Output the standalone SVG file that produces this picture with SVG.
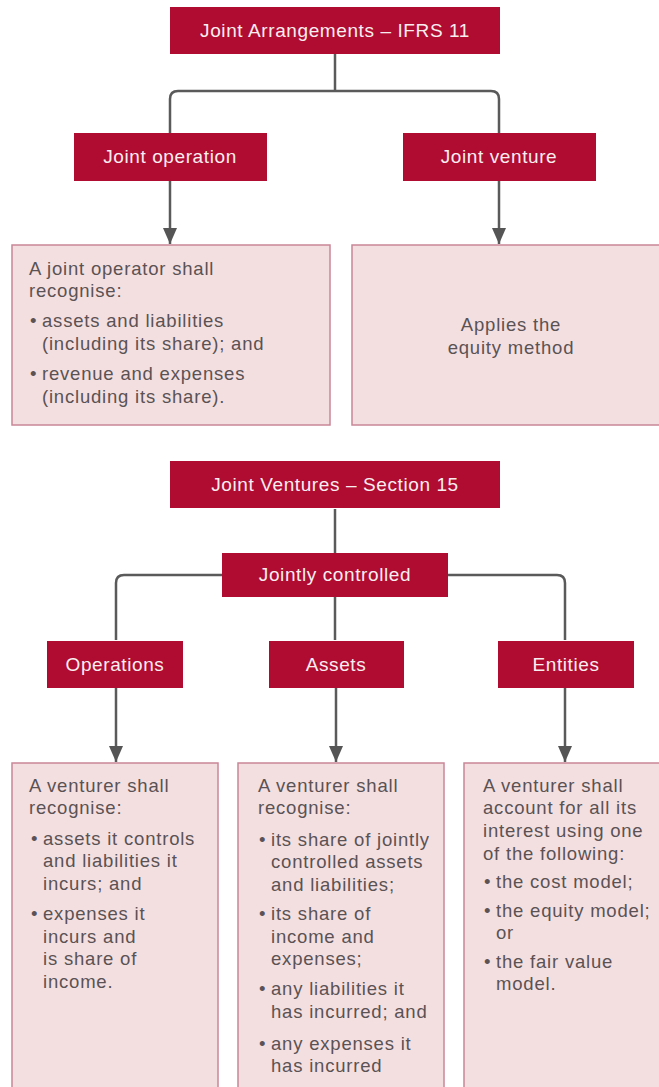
<svg xmlns="http://www.w3.org/2000/svg" width="659" height="1087" viewBox="0 0 659 1087">
<style>
.red{fill:#b00b30}
.pink{fill:#f4dfe0;stroke:#c98797;stroke-width:1.5}
.ht{font-family:"Liberation Sans",Arial,sans-serif;font-size:19px;letter-spacing:0.6px;fill:#f8eef0;text-anchor:middle}
.bt{font-family:"Liberation Sans",Arial,sans-serif;font-size:18.5px;letter-spacing:0.8px;fill:#5a5254}
.ln{fill:none;stroke:#5a5a5a;stroke-width:2.5}
</style>
<defs>
<marker id="ah" markerUnits="userSpaceOnUse" markerWidth="16" markerHeight="14" refX="16" refY="7" orient="auto">
<path d="M0,0 L16,7 L0,14 z" fill="#555"/>
</marker>
</defs>
<rect width="659" height="1087" fill="#fff"/>
<g id="connectors">
<path class="ln" d="M335,54 V91"/>
<path class="ln" d="M335,91 H178 Q170,91 170,99 V133"/>
<path class="ln" d="M335,91 H491 Q499,91 499,99 V133"/>
<path class="ln" d="M170,181 V244" marker-end="url(#ah)"/>
<path class="ln" d="M499,181 V244" marker-end="url(#ah)"/>
<path class="ln" d="M335,509 V553"/>
<path class="ln" d="M335,575 H124 Q116,575 116,583 V640"/>
<path class="ln" d="M335,575 H557 Q565,575 565,583 V640"/>
<path class="ln" d="M335,597 V640"/>
<path class="ln" d="M116,688 V762" marker-end="url(#ah)"/>
<path class="ln" d="M336,688 V762" marker-end="url(#ah)"/>
<path class="ln" d="M565,688 V762" marker-end="url(#ah)"/>
</g>
<g id="ifrs11">
<rect class="red" x="170" y="7" width="330" height="47"/>
<text class="ht" x="335" y="37">Joint Arrangements – IFRS 11</text>
</g>
<g id="joint-operation">
<rect class="red" x="74" y="133" width="193" height="48"/>
<text class="ht" x="170" y="163">Joint operation</text>
</g>
<g id="joint-venture">
<rect class="red" x="403" y="133" width="193" height="48"/>
<text class="ht" x="499" y="163">Joint venture</text>
</g>
<g id="operator-box">
<rect class="pink" x="12" y="245" width="318" height="180"/>
<text class="bt"><tspan x="29" y="275">A joint operator shall</tspan><tspan x="29" y="297">recognise:</tspan></text>
<text class="bt"><tspan x="30" y="327">•</tspan><tspan x="42" y="327">assets and liabilities</tspan><tspan x="42" y="350">(including its share); and</tspan></text>
<text class="bt"><tspan x="30" y="380">•</tspan><tspan x="42" y="380">revenue and expenses</tspan><tspan x="42" y="403">(including its share).</tspan></text>
</g>
<g id="equity-box">
<rect class="pink" x="352" y="245" width="316" height="180"/>
<text class="bt" text-anchor="middle"><tspan x="511" y="331">Applies the</tspan><tspan x="511" y="354">equity method</tspan></text>
</g>
<g id="section15">
<rect class="red" x="170" y="461" width="330" height="47"/>
<text class="ht" x="335" y="491">Joint Ventures – Section 15</text>
</g>
<g id="jointly-controlled">
<rect class="red" x="222" y="553" width="226" height="44"/>
<text class="ht" x="335" y="581">Jointly controlled</text>
</g>
<g id="operations">
<rect class="red" x="47" y="641" width="136" height="47"/>
<text class="ht" x="115" y="671">Operations</text>
</g>
<g id="assets">
<rect class="red" x="269" y="641" width="135" height="47"/>
<text class="ht" x="336" y="671">Assets</text>
</g>
<g id="entities">
<rect class="red" x="498" y="641" width="136" height="47"/>
<text class="ht" x="566" y="671">Entities</text>
</g>
<g id="operations-box">
<rect class="pink" x="12" y="763" width="206" height="340"/>
<text class="bt"><tspan x="29" y="792">A venturer shall</tspan><tspan x="29" y="814">recognise:</tspan></text>
<text class="bt"><tspan x="31" y="845">•</tspan><tspan x="43" y="845">assets it controls</tspan><tspan x="43" y="867">and liabilities it</tspan><tspan x="43" y="890">incurs; and</tspan></text>
<text class="bt"><tspan x="31" y="920">•</tspan><tspan x="43" y="920">expenses it</tspan><tspan x="43" y="943">incurs and</tspan><tspan x="43" y="965">is share of</tspan><tspan x="43" y="988">income.</tspan></text>
</g>
<g id="assets-box">
<rect class="pink" x="238" y="763" width="206" height="340"/>
<text class="bt"><tspan x="258" y="792">A venturer shall</tspan><tspan x="258" y="814">recognise:</tspan></text>
<text class="bt"><tspan x="259" y="846">•</tspan><tspan x="271" y="846">its share of jointly</tspan><tspan x="271" y="868">controlled assets</tspan><tspan x="271" y="891">and liabilities;</tspan></text>
<text class="bt"><tspan x="259" y="920">•</tspan><tspan x="271" y="920">its share of</tspan><tspan x="271" y="943">income and</tspan><tspan x="271" y="965">expenses;</tspan></text>
<text class="bt"><tspan x="259" y="995">•</tspan><tspan x="271" y="995">any liabilities it</tspan><tspan x="271" y="1018">has incurred; and</tspan></text>
<text class="bt"><tspan x="259" y="1050">•</tspan><tspan x="271" y="1050">any expenses it</tspan><tspan x="271" y="1072">has incurred</tspan></text>
</g>
<g id="entities-box">
<rect class="pink" x="464" y="763" width="210" height="340"/>
<text class="bt"><tspan x="483" y="792">A venturer shall</tspan><tspan x="483" y="814">account for all its</tspan><tspan x="483" y="837">interest using one</tspan><tspan x="483" y="860">of the following:</tspan></text>
<text class="bt"><tspan x="484" y="888">•</tspan><tspan x="496" y="888">the cost model;</tspan></text>
<text class="bt"><tspan x="484" y="917">•</tspan><tspan x="496" y="917">the equity model;</tspan><tspan x="496" y="939">or</tspan></text>
<text class="bt"><tspan x="484" y="968">•</tspan><tspan x="496" y="968">the fair value</tspan><tspan x="496" y="990">model.</tspan></text>
</g>
</svg>
